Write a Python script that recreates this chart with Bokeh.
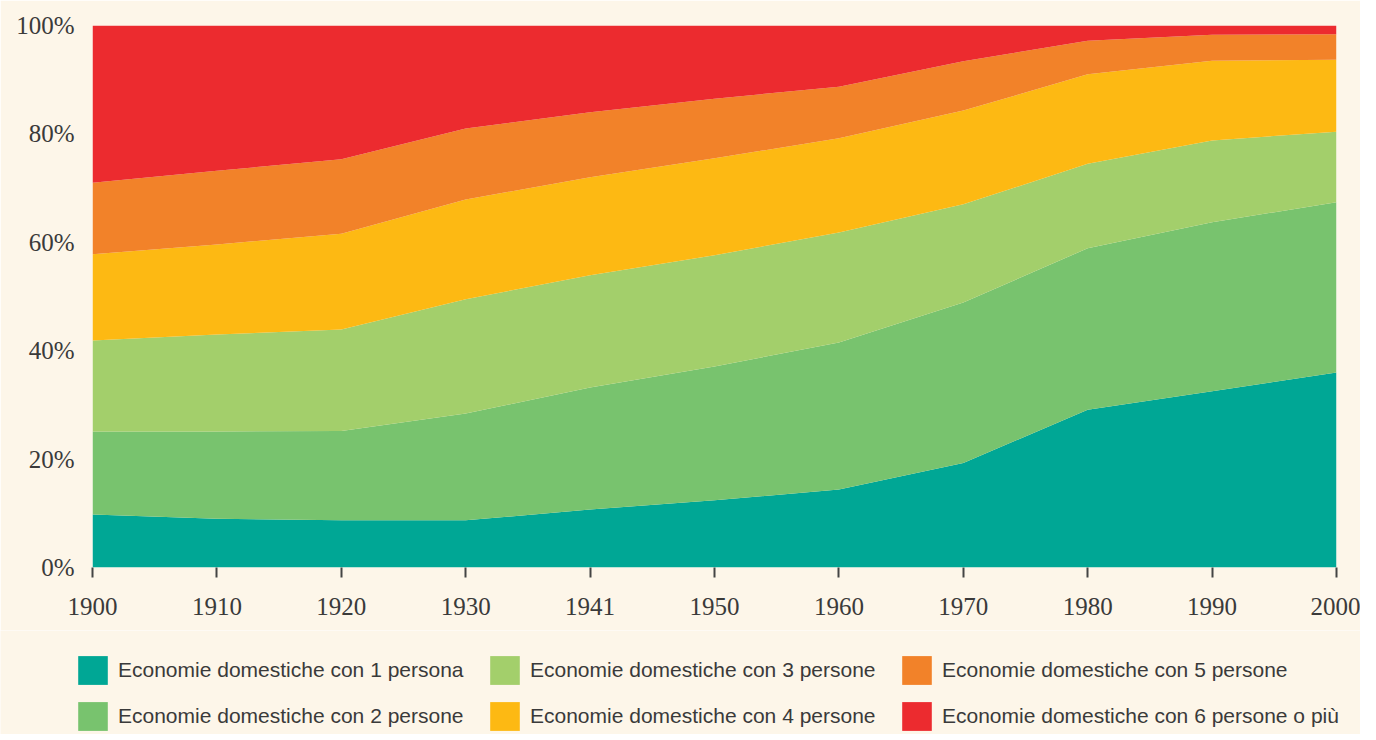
from bokeh.plotting import figure
from bokeh.layouts import column
from bokeh.models import ColumnDataSource, Range1d, FixedTicker, Legend, LegendItem
from bokeh.embed import file_html
from bokeh.resources import INLINE

years = ["1900", "1910", "1920", "1930", "1941", "1950", "1960", "1970", "1980", "1990", "2000"]
p1 = [9.8, 9.0, 8.7, 8.7, 10.7, 12.4, 14.4, 19.3, 29.1, 32.5, 36.0]
p2 = [15.3, 16.1, 16.5, 19.7, 22.5, 24.7, 27.1, 29.6, 29.8, 31.2, 31.4]
p3 = [16.8, 17.9, 18.7, 21.1, 20.7, 20.5, 20.3, 18.1, 15.6, 15.1, 13.0]
p4 = [15.9, 16.6, 17.7, 18.4, 18.1, 17.9, 17.4, 17.3, 16.5, 14.7, 13.3]
p5 = [13.2, 13.6, 13.7, 13.1, 12.0, 11.0, 9.5, 9.1, 6.2, 4.8, 4.7]
p6 = [29.0, 26.8, 24.7, 19.0, 16.0, 13.5, 11.3, 6.6, 2.8, 1.7, 1.6]

series_names = [
    "Economie domestiche con 1 persona",
    "Economie domestiche con 2 persone",
    "Economie domestiche con 3 persone",
    "Economie domestiche con 4 persone",
    "Economie domestiche con 5 persone",
    "Economie domestiche con 6 persone o più",
]
colors = ["#00a795", "#78c36e", "#a3cf6b", "#fdb913", "#f28229", "#ec2b2f"]
y_ticks = [0, 20, 40, 60, 80, 100]

BG = "#fdf6e9"
TXT = "#3a3a3a"

keys = ["s1", "s2", "s3", "s4", "s5", "s6"]
data = {"x": list(range(len(years)))}
for k, v in zip(keys, [p1, p2, p3, p4, p5, p6]):
    data[k] = v
src = ColumnDataSource(data)

p = figure(width=1360, height=630, output_backend="svg", toolbar_location=None,
           x_range=Range1d(0, len(years) - 1), y_range=Range1d(0, 100),
           min_border_left=92, min_border_right=24, min_border_top=25, min_border_bottom=63)
p.background_fill_color = BG
p.border_fill_color = BG
p.outline_line_color = None
p.grid.grid_line_color = None
p.frame_align = False

renderers = p.varea_stack(stackers=keys, x="x", color=colors, source=src)

# x axis
p.xaxis.ticker = FixedTicker(ticks=list(range(len(years))))
p.xaxis.major_label_overrides = {i: y for i, y in enumerate(years)}
p.xaxis.axis_line_color = None
p.xaxis.major_tick_in = 0
p.xaxis.major_tick_out = 10
p.xaxis.major_tick_line_color = "#444444"
p.xaxis.major_tick_line_width = 2
p.xaxis.minor_tick_line_color = None
p.xaxis.major_label_standoff = 20
p.xaxis.major_label_text_font = "Liberation Serif"
p.xaxis.major_label_text_font_size = "25px"
p.xaxis.major_label_text_color = TXT

# y axis
p.yaxis.ticker = FixedTicker(ticks=y_ticks)
p.yaxis.major_label_overrides = {t: f"{t}%" for t in y_ticks}
p.yaxis.axis_line_color = None
p.yaxis.major_tick_line_color = None
p.yaxis.major_tick_out = 0
p.yaxis.major_tick_in = 0
p.yaxis.minor_tick_line_color = None
p.yaxis.major_label_standoff = 18
p.yaxis.major_label_text_font = "Liberation Serif"
p.yaxis.major_label_text_font_size = "25px"
p.yaxis.major_label_text_color = TXT

# legend panel (separate figure below the chart)
lf = figure(width=1360, height=104, output_backend="svg", toolbar_location=None,
            x_axis_type=None, y_axis_type=None,
            x_range=Range1d(0, 1), y_range=Range1d(0, 1),
            min_border_left=0, min_border_right=0, min_border_top=0, min_border_bottom=0)
lf.background_fill_color = BG
lf.border_fill_color = BG
lf.outline_line_color = None
lf.grid.grid_line_color = None
lf.frame_align = False

# off-canvas proxies so the legend draws filled swatches in the series colours
swatches = [lf.quad(left=[-3], right=[-2], bottom=[-3], top=[-2],
                    fill_color=c, line_color=None) for c in colors]
items = [LegendItem(label=n, renderers=[r]) for n, r in zip(series_names, swatches)]
legend = Legend(items=items, orientation="vertical", nrows=2,
                location=(74, 0),
                glyph_width=37, glyph_height=36, label_standoff=7,
                label_width=358, spacing=10, padding=0, margin=0,
                border_line_color=None, background_fill_alpha=0,
                label_text_font="Liberation Sans", label_text_font_size="21px",
                label_text_color=TXT, label_text_baseline="middle")
lf.add_layout(legend, "center")

layout = column(p, lf, spacing=0)
open("out.html", "w").write(file_html(layout, INLINE))
